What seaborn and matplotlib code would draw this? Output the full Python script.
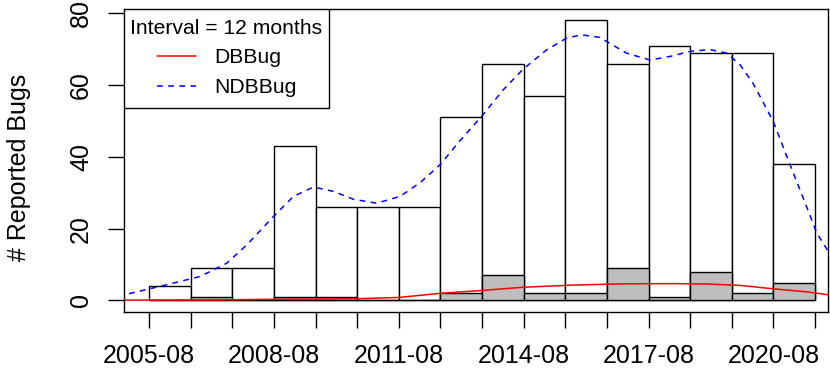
import numpy as np
import pandas as pd
import matplotlib
matplotlib.use("Agg")
import matplotlib.pyplot as plt
from matplotlib.patches import Rectangle
import seaborn as sns

# bug counts per 12 month interval (first interval starts 2005-08)
all_bugs = [4, 9, 9, 43, 26, 26, 26, 51, 66, 57, 78, 66, 71, 69, 69, 38]
db_bugs = [0, 1, 0, 1, 1, 0, 0, 2, 7, 2, 2, 9, 1, 8, 2, 5]
interval_start = list(range(16))

tick_pos = list(range(17))
tick_labels = ["2005-08", "", "", "2008-08", "", "", "2011-08", "", "",
               "2014-08", "", "", "2017-08", "", "", "2020-08", ""]

# smoothed curves (x in interval units)
ndb_x = [-0.48, 0.43, 1.23, 1.87, 2.35, 2.99, 3.47, 3.95, 4.43, 4.91, 5.47,
         6.03, 6.51, 6.99, 7.47, 7.99, 8.51, 8.99, 9.55, 10.03, 10.39, 10.83,
         11.0, 11.47, 12.03, 12.52, 13.0, 13.48, 13.88, 14.2, 14.51, 14.99,
         15.4, 15.8, 16.04, 16.32]
ndb_y = [1.9, 4.4, 6.7, 10.4, 15.5, 23.4, 29.0, 31.6, 30.4, 28.2, 27.1,
         29.0, 32.8, 37.8, 44.5, 51.3, 58.7, 64.5, 69.8, 73.1, 74.0, 73.3,
         72.1, 68.9, 67.0, 68.0, 69.4, 69.9, 68.9, 65.6, 60.5, 50.0,
         37.8, 26.0, 18.8, 13.6]

db_x = [-0.6, 0.0, 1.0, 2.0, 3.0, 4.0, 5.0, 6.0, 7.0, 8.0, 9.0, 10.2,
        11.4, 12.6, 13.4, 14.2, 15.04, 15.8, 16.32]
db_y = [0.1, 0.1, 0.15, 0.2, 0.35, 0.4, 0.5, 0.85, 2.0, 2.8, 3.7, 4.3,
        4.65, 4.7, 4.6, 4.2, 3.2, 2.4, 1.6]

df = pd.DataFrame({
    "mid": np.array(interval_start) + 0.5,
    "all": all_bugs,
    "db": db_bugs,
})

sns.set_theme(style="ticks")
plt.rcParams["font.family"] = ["Liberation Sans", "DejaVu Sans"]
plt.rcParams["text.color"] = "black"
plt.rcParams["axes.labelcolor"] = "black"

fig = plt.figure(figsize=(8.3, 3.69), dpi=100)
ax = fig.add_axes([0.1494, 0.1553, 0.8482, 0.8195])

# white bars = all bugs, grey bars = DB bugs
sns.histplot(data=df, x="mid", weights="all", bins=16, binrange=(0, 16),
             color="white", edgecolor="black", linewidth=1.0, alpha=1, ax=ax)
sns.histplot(data=df, x="mid", weights="db", bins=16, binrange=(0, 16),
             color="#BEBEBE", edgecolor="black", linewidth=1.0, alpha=1, ax=ax)

sns.lineplot(x=db_x, y=db_y, sort=False, color="red", linewidth=1.1,
             label="DBBug", ax=ax)
sns.lineplot(x=ndb_x, y=ndb_y, sort=False, color="blue", linewidth=1.1,
             linestyle=(0, (3.8, 3.5)), label="NDBBug", ax=ax)

ax.set_xlim(-0.6, 16.31)
ax.set_ylim(-3.12, 81.12)

ax.set_xticks(tick_pos)
ax.set_xticklabels(tick_labels)
ax.set_yticks([0, 20, 40, 60, 80])
ax.set_xlabel("")
ax.set_ylabel("# Reported Bugs", fontsize=18, color="black")
ax.yaxis.set_label_coords(-0.132, 0.478)

ax.tick_params(axis="both", direction="out", length=11.5, width=1.0,
               color="black", labelsize=18, labelcolor="black")
ax.tick_params(axis="x", pad=12.0)
ax.tick_params(axis="y", pad=10.8, labelrotation=90)
for lab in ax.get_yticklabels():
    lab.set_va("center")

for sp in ax.spines.values():
    sp.set_visible(True)
    sp.set_color("black")
    sp.set_linewidth(1.0)

# legend frame drawn separately (R-style box with extra bottom space)
ax.add_patch(Rectangle((0, 0.6726), 0.2912, 0.3274, transform=ax.transAxes,
                       facecolor="white", edgecolor="black", linewidth=1.0,
                       zorder=4.5))
leg = ax.legend(title="Interval = 12 months", loc="upper center",
                bbox_to_anchor=(0.1456, 1.0), borderaxespad=0,
                frameon=False, fontsize=15.2, title_fontsize=15.2,
                handlelength=1.85, handletextpad=0.85, labelspacing=0.5,
                borderpad=0.45)
leg.set_zorder(5)

fig.savefig("out.png", dpi=100)
